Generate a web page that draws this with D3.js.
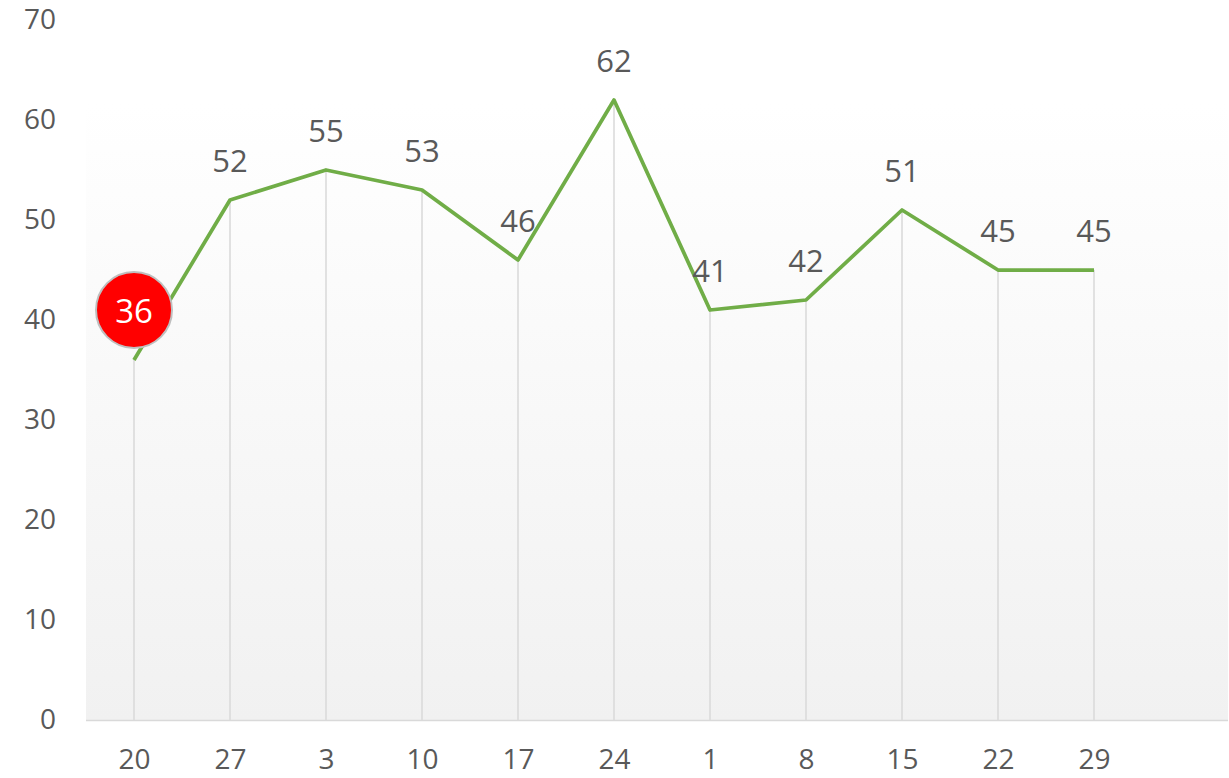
<!DOCTYPE html>
<html>
<head>
<meta charset="utf-8">
<script src="https://cdn.jsdelivr.net/npm/d3@7.9.0/dist/d3.min.js"></script>
<style>
  html, body { margin: 0; padding: 0; background: #fff; }
  svg { display: block; font-family: "Open Sans", "Noto Sans", sans-serif; }
</style>
</head>
<body>
<svg id="chart" width="1229" height="778"></svg>
<script>
const categories = ['20', '27', '3', '10', '17', '24', '1', '8', '15', '22', '29'];
const values = [36, 52, 55, 53, 46, 62, 41, 42, 51, 45, 45];
const yTicks = [0, 10, 20, 30, 40, 50, 60, 70];
const highlightIndex = 0;

const svg = d3.select('#chart');
const plotLeft = 86, plotRight = 1228, plotTop = 20, plotBottom = 720;

const x = d3.scalePoint().domain(categories).range([134, 1094]);
const y = d3.scaleLinear().domain([0, 70]).range([plotBottom, plotTop]);

// plot area background gradient
const defs = svg.append('defs');
const grad = defs.append('linearGradient')
    .attr('id', 'bg')
    .attr('x1', 0).attr('y1', 0).attr('x2', 0).attr('y2', 1);
grad.append('stop').attr('offset', '0%').attr('stop-color', '#ffffff');
grad.append('stop').attr('offset', '12%').attr('stop-color', '#ffffff');
grad.append('stop').attr('offset', '100%').attr('stop-color', '#f1f1f1');

svg.append('rect')
    .attr('x', plotLeft).attr('y', plotTop)
    .attr('width', plotRight - plotLeft).attr('height', plotBottom - plotTop)
    .attr('fill', 'url(#bg)');

// drop lines
const data = categories.map((c, i) => ({ cat: c, value: values[i], i }));

svg.append('g').selectAll('line')
    .data(data)
    .join('line')
    .attr('x1', d => x(d.cat)).attr('x2', d => x(d.cat))
    .attr('y1', d => y(d.value)).attr('y2', plotBottom)
    .attr('stroke', '#d9d9d9')
    .attr('stroke-width', 1.5);

// x axis line
svg.append('line')
    .attr('x1', plotLeft).attr('x2', plotRight)
    .attr('y1', plotBottom + 0.5).attr('y2', plotBottom + 0.5)
    .attr('stroke', '#d9d9d9')
    .attr('stroke-width', 1.5);

// y axis labels
const yAxis = d3.axisLeft(y).tickValues(yTicks).tickSize(0).tickPadding(0);
const gy = svg.append('g').attr('transform', 'translate(56,0)').call(yAxis);
gy.select('.domain').remove();
gy.selectAll('text')
    .attr('fill', '#595959')
    .style('font-size', '28px')
    .style('font-family', '"Open Sans", sans-serif');

// x axis labels
const xAxis = d3.axisBottom(x).tickSize(0).tickPadding(0);
const gx = svg.append('g').attr('transform', `translate(0,${plotBottom + 29})`).call(xAxis);
gx.select('.domain').remove();
gx.selectAll('text')
    .attr('fill', '#595959')
    .style('font-size', '28px')
    .style('font-family', '"Open Sans", sans-serif');

// line
const line = d3.line()
    .x(d => x(d.cat))
    .y(d => y(d.value));

svg.append('path')
    .datum(data)
    .attr('d', line)
    .attr('fill', 'none')
    .attr('stroke', '#70ad47')
    .attr('stroke-width', 3.75)
    .attr('stroke-linejoin', 'round');

// data labels
svg.append('g').selectAll('text')
    .data(data.filter(d => d.i !== highlightIndex))
    .join('text')
    .attr('x', d => x(d.cat))
    .attr('y', d => y(d.value) - 40)
    .attr('text-anchor', 'middle')
    .attr('dominant-baseline', 'central')
    .attr('fill', '#595959')
    .style('font-size', '31px')
    .text(d => d.value);

// highlighted label
const hl = data[highlightIndex];
const hg = svg.append('g')
    .attr('transform', `translate(${x(hl.cat)},${y(hl.value) - 50})`);
hg.append('circle')
    .attr('r', 38)
    .attr('fill', '#ff0000')
    .attr('stroke', '#bfbfbf')
    .attr('stroke-width', 2);
hg.append('text')
    .attr('text-anchor', 'middle')
    .attr('dominant-baseline', 'central')
    .attr('fill', '#ffffff')
    .style('font-size', '33px')
    .text(hl.value);
</script>
</body>
</html>
